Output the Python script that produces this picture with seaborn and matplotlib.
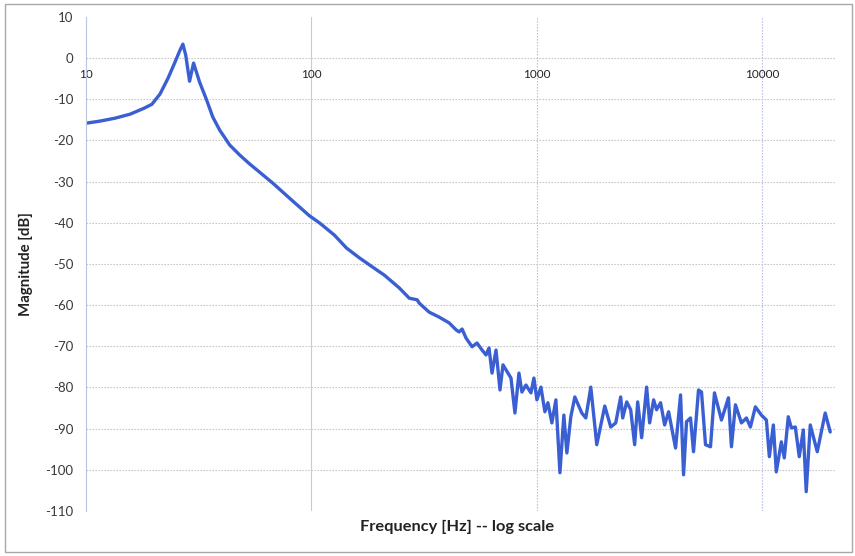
import matplotlib
matplotlib.use("Agg")
import matplotlib.pyplot as plt
import seaborn as sns
import pandas as pd
from matplotlib.patches import Rectangle

# ---- data ----
freq_hz = [
    10.0, 11.5, 13.4, 15.7, 18.2, 19.6, 21.3, 23.1, 24.8, 26.1,
    26.9, 27.7, 28.8, 30.0, 31.9, 34.3, 36.5, 39.2, 43.4, 48.0,
    53.2, 58.9, 67.2, 79.9, 98.0, 108.5, 126.5, 142.9, 163.1, 186.2,
    210.4, 245.1, 271.4, 294.4, 300.5, 332.8, 368.6, 408.0, 438.2, 451.7,
    465.7, 485.1, 515.6, 542.6, 571.0, 594.8, 613.2, 632.3, 658.6, 686.0,
    707.2, 767.4, 799.0, 832.4, 858.1, 894.1, 940.8, 969.9, 1000, 1042,
    1085, 1119, 1165, 1214, 1265, 1317, 1358, 1414, 1473, 1582,
    1648, 1734, 1843, 2000, 2126, 2237, 2353, 2402, 2502, 2606,
    2714, 2799, 2915, 3067, 3162, 3294, 3396, 3537, 3686, 3839,
    4121, 4337, 4472, 4610, 4801, 4950, 5210, 5372, 5596, 5888,
    6132, 6586, 7072, 7292, 7596, 8076, 8498, 8852, 9311, 9899,
    10420, 10740, 11190, 11530, 12140, 12510, 13030, 13440, 14000, 14580,
    15190, 15650, 16310, 17520, 19000, 20000,
]
magnitude_db = [
    -15.8, -15.3, -14.6, -13.6, -12.1, -11.2, -8.7, -4.9, -1.0, 1.9,
    3.4, 0.7, -5.6, -1.2, -5.8, -10.2, -14.3, -17.5, -21.1, -23.5,
    -25.7, -27.7, -30.3, -34.0, -38.3, -40.0, -43.0, -46.1, -48.5, -50.7,
    -52.7, -55.8, -58.3, -58.7, -59.5, -61.7, -62.9, -64.3, -66.0, -66.5,
    -65.8, -68.0, -70.1, -69.2, -70.9, -72.1, -70.4, -76.5, -70.9, -80.6,
    -74.5, -77.7, -86.2, -76.5, -81.1, -79.4, -81.3, -77.7, -83.0, -79.9,
    -85.9, -83.7, -88.6, -83.0, -100.7, -86.7, -95.9, -87.1, -82.3, -86.2,
    -87.4, -79.9, -93.9, -84.5, -89.6, -88.6, -82.3, -87.4, -83.5, -85.4,
    -93.9, -83.5, -92.2, -79.9, -88.6, -83.0, -85.4, -83.7, -89.1, -85.9,
    -94.7, -81.8, -101.2, -88.3, -87.4, -95.6, -80.6, -81.1, -93.9, -94.4,
    -81.3, -87.9, -82.5, -94.4, -84.2, -88.6, -87.4, -89.6, -84.7, -86.7,
    -87.9, -96.8, -89.1, -100.5, -93.2, -97.1, -87.1, -89.8, -89.6, -96.8,
    -90.3, -105.3, -89.1, -95.6, -86.2, -90.8,
]
x_ticks = [10, 100, 1000, 10000]
x_tick_labels = ["10", "100", "1000", "10000"]
y_ticks = list(range(-110, 11, 10))

df = pd.DataFrame({"freq": freq_hz, "mag": magnitude_db})

sns.set_theme(style="white")
plt.rcParams["font.family"] = ["Lato", "DejaVu Sans"]

fig = plt.figure(figsize=(8.55, 5.56), dpi=100)
ax = fig.add_axes([86 / 855, 1 - 511 / 556, (835 - 86) / 855, (511 - 17) / 556])

sns.lineplot(data=df, x="freq", y="mag", ax=ax, sort=False,
             color="#3a5fd3", linewidth=2.4)

ax.set_xscale("log")
ax.set_xlim(10, 21000)
ax.set_ylim(-110, 10)

ax.set_xticks(x_ticks)
ax.set_xticklabels(x_tick_labels)
ax.xaxis.set_minor_locator(matplotlib.ticker.NullLocator())
ax.set_yticks(y_ticks)
ax.set_yticklabels([str(v) for v in y_ticks])

# x-axis crosses at 0 dB (Excel style)
ax.spines["bottom"].set_position(("data", 0))
for s in ["top", "right", "bottom"]:
    ax.spines[s].set_visible(False)
ax.spines["left"].set_color("#b8c4e0")
ax.spines["left"].set_linewidth(0.8)

ax.tick_params(axis="x", length=0, pad=8, labelsize=8.5, labelcolor="#222222")
ax.tick_params(axis="y", length=0, pad=9, labelsize=9.5, labelcolor="#3a3a3a")

# gridlines
ax.grid(True, axis="y", color="#bcbcbc", linestyle=(0, (1.2, 1.5)), linewidth=0.8)
ax.grid(True, axis="x", color="#aab6dd", linestyle=(0, (1.2, 1.5)), linewidth=0.8)
for gl, v in zip(ax.get_ygridlines(), y_ticks):
    if v in (-110, 10):
        gl.set_visible(False)
for gl, v in zip(ax.get_xgridlines(), x_ticks):
    if v == 10:
        gl.set_visible(False)
    if v == 100:
        gl.set_linestyle("-")
        gl.set_color("#c8cbd6")
ax.set_axisbelow(True)

ax.set_xlabel("")
ax.set_ylabel("Magnitude [dB]", fontsize=10.8, fontweight="bold", color="#222222", labelpad=9)
fig.text((86 + 835) / 2 / 855 - 0.004, 1 - 527 / 556, "Frequency [Hz] -- log scale",
         ha="center", va="center", fontsize=11.8, fontweight="bold", color="#222222")

# chart area border
fig.patches.append(Rectangle((5 / 855, 4 / 556), 847 / 855, 548 / 556,
                             transform=fig.transFigure, fill=False,
                             edgecolor="#a8a8a8", linewidth=1.0))

fig.savefig("out.png", dpi=100)
